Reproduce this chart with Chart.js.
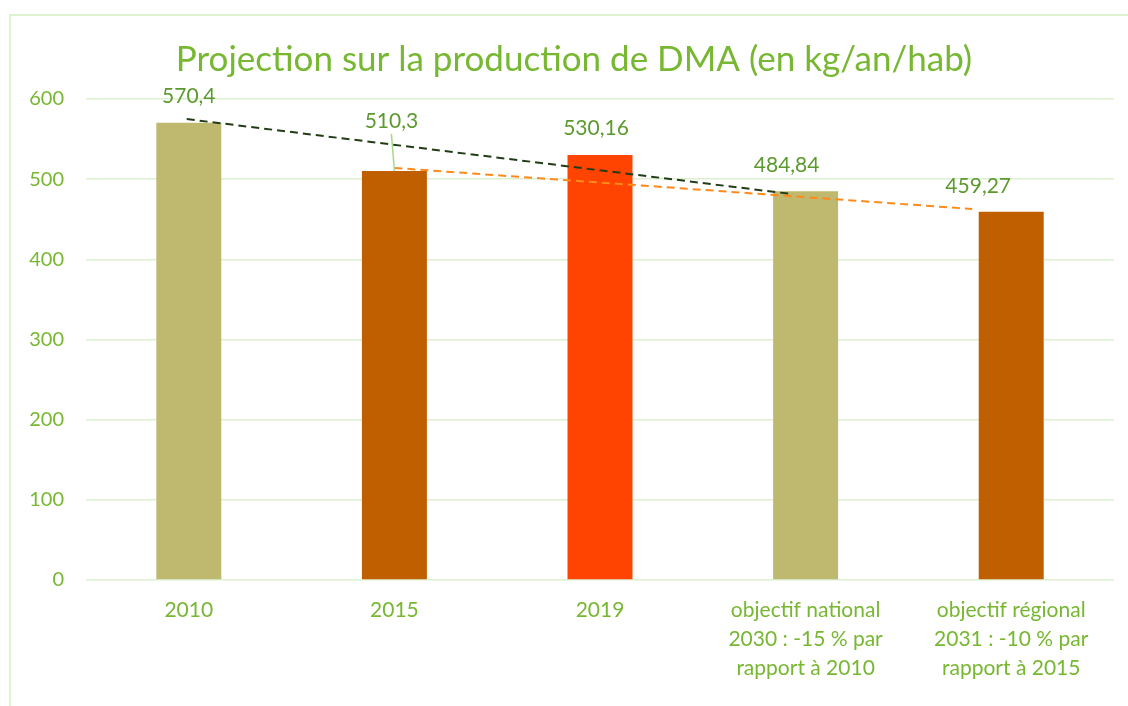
<!DOCTYPE html>
<html>
<head>
<meta charset="utf-8">
<script src="https://cdn.jsdelivr.net/npm/chart.js@4.4.1/dist/chart.umd.min.js"></script>
<style>
html,body{margin:0;padding:0;background:#fff;}
#wrap{position:relative;width:1128px;height:706px;}
canvas{display:block;}
</style>
</head>
<body>
<div id="wrap"><canvas id="c" width="1128" height="706"></canvas></div>
<script>
const categories = [
  ['2010'],
  ['2015'],
  ['2019'],
  ['objectif national', '2030 : -15 % par', 'rapport à 2010'],
  ['objectif régional', '2031 : -10 % par', 'rapport à 2015']
];
const values = [570.4, 510.3, 530.16, 484.84, 459.27];
const valueLabels = ['570,4', '510,3', '530,16', '484,84', '459,27'];
const barColors = ['#BFB96F', '#BF5F00', '#FF4300', '#BFB96F', '#BF5F00'];
const yTicks = [0, 100, 200, 300, 400, 500, 600];
// zero-width non-joiner keeps the "ti" from becoming a ligature
const titleText = 'Projec\u200Ction sur la produc\u200Ction de DMA (en kg/an/hab)';
// dashed trend lines (category index position, value)
const trendNationalX = [-0.01, 2.93];
const trendNationalY = [575, 481.5];
const trendRegionalX = [1.0, 3.81];
const trendRegionalY = [514, 462.8];

const GREEN = '#77B731';
const LABEL_GREEN = '#5C9A2F';
const GRID = '#DDF0D0';

Chart.defaults.font.family = 'Lato, "Open Sans", sans-serif';

// label offsets (px) relative to the top of each bar, as placed in the reference
const labelOffsets = [[0, -26], [-3, -50], [-4, -27], [-19, -26], [-33, -26]];

const frame = {
  id: 'frame',
  beforeDraw(chart) {
    const ctx = chart.ctx;
    ctx.save();
    ctx.fillStyle = '#fff';
    ctx.fillRect(0, 0, chart.width, chart.height);
    ctx.strokeStyle = '#DDF3CF';
    ctx.lineWidth = 2;
    ctx.strokeRect(10, 15, 1130, 720);
    // chart title
    ctx.font = '35px Lato, "Open Sans", sans-serif';
    ctx.fillStyle = GREEN;
    ctx.textAlign = 'center';
    ctx.textBaseline = 'middle';
    ctx.fillText(titleText, 574, 60);
    ctx.restore();
  }
};

const valueLabelPlugin = {
  id: 'valueLabels',
  afterDatasetsDraw(chart) {
    const meta = chart.getDatasetMeta(2);
    const ctx = chart.ctx;
    ctx.save();
    ctx.font = '21px Lato, "Open Sans", sans-serif';
    ctx.fillStyle = LABEL_GREEN;
    ctx.textAlign = 'center';
    ctx.textBaseline = 'middle';
    meta.data.forEach((bar, i) => {
      const off = labelOffsets[i];
      const x = bar.x + off[0];
      const y = bar.y + off[1];
      if (i === 1) {
        ctx.strokeStyle = '#A8D88A';
        ctx.lineWidth = 1.5;
        ctx.beginPath();
        ctx.moveTo(x, y + 13);
        ctx.lineTo(bar.x, bar.y);
        ctx.stroke();
      }
      ctx.fillText(valueLabels[i], x, y);
    });
    ctx.restore();
  }
};

new Chart(document.getElementById('c'), {
  type: 'bar',
  data: {
    labels: categories,
    datasets: [
      {
        type: 'line',
        data: trendNationalX.map((x, i) => ({x: x, y: trendNationalY[i]})),
        xAxisID: 'xl',
        borderColor: '#223D16',
        borderWidth: 2,
        borderDash: [8, 5],
        pointRadius: 0,
        fill: false,
        order: 0
      },
      {
        type: 'line',
        data: trendRegionalX.map((x, i) => ({x: x, y: trendRegionalY[i]})),
        xAxisID: 'xl',
        borderColor: '#FF8A1C',
        borderWidth: 2,
        borderDash: [8, 5],
        pointRadius: 0,
        fill: false,
        order: 0
      },
      {
        type: 'bar',
        data: values,
        backgroundColor: barColors,
        barPercentage: 0.316,
        categoryPercentage: 1,
        grouped: false,
        xAxisID: 'x',
        order: 1
      }
    ]
  },
  options: {
    responsive: false,
    animation: false,
    events: [],
    layout: {padding: {left: 9, right: 14, top: 99, bottom: 0}},
    plugins: {
      legend: {display: false},
      tooltip: {enabled: false},
      title: {display: false}
    },
    scales: {
      x: {
        type: 'category',
        grid: {display: false, drawTicks: false},
        border: {display: false},
        ticks: {
          color: GREEN,
          font: {size: 21, lineHeight: 1.38},
          padding: 16,
          maxRotation: 0,
          autoSkip: false
        },
        afterFit(s) { s.height = 126; }
      },
      xl: {
        type: 'linear',
        display: false,
        offset: false,
        bounds: 'ticks',
        min: -0.5,
        max: 4.5
      },
      y: {
        min: 0,
        max: 600,
        afterBuildTicks(s) { s.ticks = yTicks.map(v => ({value: v})); },
        grid: {color: GRID, lineWidth: 1.6, drawTicks: false},
        border: {display: false},
        ticks: {
          color: GREEN,
          font: {size: 20},
          padding: 22
        },
        afterFit(s) { s.width = 77; }
      }
    }
  },
  plugins: [frame, valueLabelPlugin]
});
</script>
</body>
</html>
